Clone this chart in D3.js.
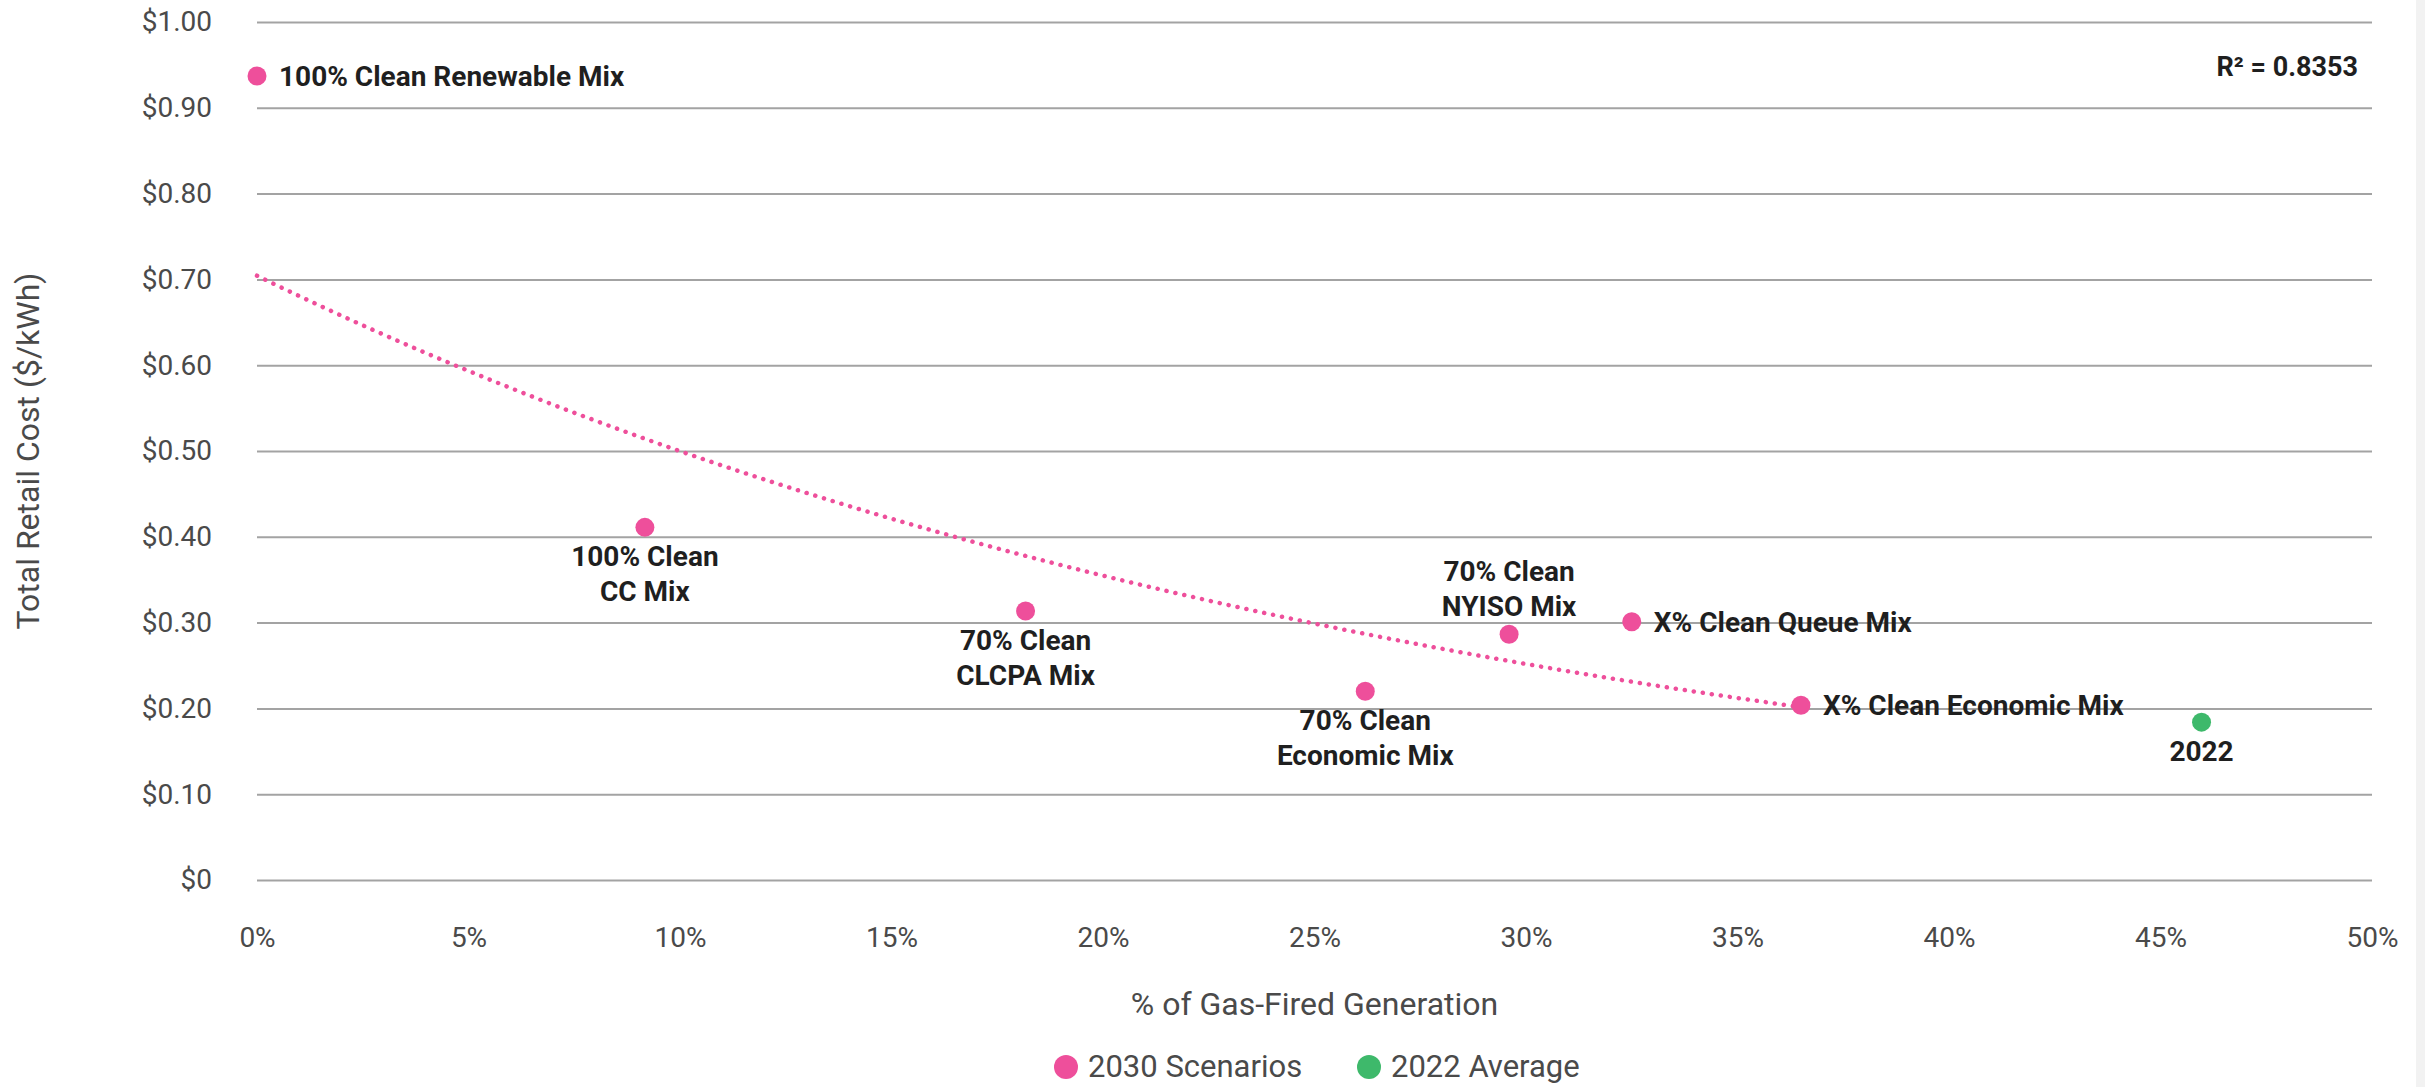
<!DOCTYPE html>
<html>
<head>
<meta charset="utf-8">
<script src="https://cdn.jsdelivr.net/npm/d3@7"></script>
<style>
  html, body { margin: 0; padding: 0; background: #fff; }
  svg { display: block; font-family: Roboto, "Noto Sans", sans-serif; }
</style>
</head>
<body>
<svg id="chart" width="2425" height="1087"></svg>
<script>
// ---- Data ----
const scenarioNames = [
  ["100% Clean Renewable Mix"],
  ["100% Clean", "CC Mix"],
  ["70% Clean", "CLCPA Mix"],
  ["70% Clean", "Economic Mix"],
  ["70% Clean", "NYISO Mix"],
  ["X% Clean Queue Mix"],
  ["X% Clean Economic Mix"]
];
const scenarioGas = [0.0, 0.0917, 0.1817, 0.262, 0.296, 0.325, 0.365];
const scenarioCost = [0.937, 0.411, 0.3135, 0.220, 0.2865, 0.301, 0.2036];
const scenarioLabelPos = ["right", "below", "below", "below", "above", "right", "right"];

const averageNames = [["2022"]];
const averageGas = [0.4597];
const averageCost = [0.184];
const averageLabelPos = ["below"];

const yTicks = [0, 0.1, 0.2, 0.3, 0.4, 0.5, 0.6, 0.7, 0.8, 0.9, 1.0];
const xTicks = [0, 0.05, 0.10, 0.15, 0.20, 0.25, 0.30, 0.35, 0.40, 0.45, 0.50];
const r2Text = "R² = 0.8353";
const legendItems = ["2030 Scenarios", "2022 Average"];
const xTitle = "% of Gas-Fired Generation";
const yTitle = "Total Retail Cost ($/kWh)";

// ---- Styles ----
const PINK = "#ee4f9b";
const GREEN = "#3eb96b";
const GRID = "#a3a3a3";
const TICK = "#4a4a4a";
const LABEL = "#1f1f1f";

const svg = d3.select("#chart");
const x = d3.scaleLinear().domain([0, 0.5]).range([257, 2372]);
const y = d3.scaleLinear().domain([0, 1]).range([880, 22]);

// right edge strip
svg.append("rect").attr("x", 2416).attr("y", 0).attr("width", 9).attr("height", 1087).attr("fill", "#f2f2f2");

// gridlines + y axis
const yAxis = d3.axisLeft(y).tickValues(yTicks)
  .tickSize(-(x.range()[1] - x.range()[0]))
  .tickPadding(45)
  .tickFormat(d => d === 0 ? "$0" : "$" + d3.format(".2f")(d));
const gy = svg.append("g").attr("transform", `translate(${x.range()[0]},0)`).call(yAxis);
gy.select(".domain").remove();
gy.selectAll(".tick line").attr("stroke", GRID).attr("stroke-width", 2);
gy.selectAll(".tick text").attr("fill", TICK).attr("font-size", 28).attr("font-family", "Roboto");

// x axis
const xAxis = d3.axisBottom(x).tickValues(xTicks).tickSize(0).tickPadding(47)
  .tickFormat(d => Math.round(d * 100) + "%");
const gx = svg.append("g").attr("transform", `translate(0,${y.range()[0]})`).call(xAxis);
gx.select(".domain").remove();
gx.selectAll(".tick text").attr("fill", TICK).attr("font-size", 28).attr("font-family", "Roboto");

// axis titles
svg.append("text").attr("x", (x.range()[0] + x.range()[1]) / 2).attr("y", 1015)
  .attr("text-anchor", "middle").attr("fill", TICK).attr("font-size", 32).text(xTitle);
svg.append("text").attr("transform", `translate(39,${(y.range()[0] + y.range()[1]) / 2}) rotate(-90)`)
  .attr("text-anchor", "middle").attr("fill", TICK).attr("font-size", 32).text(yTitle);

// exponential trendline fitted (least squares on ln y) to scenario points
const n = scenarioGas.length;
const lys = scenarioCost.map(Math.log);
const mx = d3.mean(scenarioGas), mly = d3.mean(lys);
let sxy = 0, sxx = 0;
for (let i = 0; i < n; i++) { sxy += (scenarioGas[i] - mx) * (lys[i] - mly); sxx += (scenarioGas[i] - mx) ** 2; }
const b = sxy / sxx, a = Math.exp(mly - b * mx);
const xMin = d3.min(scenarioGas), xMax = d3.max(scenarioGas);
const trend = d3.range(0, 101).map(i => {
  const xv = xMin + (xMax - xMin) * i / 100;
  return [xv, a * Math.exp(b * xv)];
});
svg.append("path").datum(trend)
  .attr("d", d3.line().x(d => x(d[0])).y(d => y(d[1])).curve(d3.curveLinear))
  .attr("fill", "none").attr("stroke", PINK).attr("stroke-width", 4.5)
  .attr("stroke-dasharray", "0.1 9").attr("stroke-linecap", "round");

// points + labels
function drawSeries(gas, cost, names, pos, color) {
  const g = svg.append("g");
  gas.forEach((gv, i) => {
    const cx = x(gv), cy = y(cost[i]);
    g.append("circle").attr("cx", cx).attr("cy", cy).attr("r", 9.5).attr("fill", color);
    const lines = names[i];
    const t = g.append("text").attr("fill", LABEL).attr("font-size", 28).attr("font-weight", "bold")
      .attr("font-family", "Roboto");
    const lh = 35;
    if (pos[i] === "right") {
      t.attr("x", cx + 22).attr("y", cy + 10).attr("text-anchor", "start").text(lines[0]);
    } else if (pos[i] === "below") {
      lines.forEach((ln, k) => {
        t.append("tspan").attr("x", cx).attr("y", cy + 39 + k * lh).attr("text-anchor", "middle").text(ln);
      });
    } else {
      lines.forEach((ln, k) => {
        t.append("tspan").attr("x", cx).attr("y", cy - 53 + k * lh).attr("text-anchor", "middle").text(ln);
      });
    }
  });
}
drawSeries(scenarioGas, scenarioCost, scenarioNames, scenarioLabelPos, PINK);
drawSeries(averageGas, averageCost, averageNames, averageLabelPos, GREEN);

// R² label
svg.append("text").attr("x", 2358).attr("y", 76).attr("text-anchor", "end")
  .attr("fill", LABEL).attr("font-size", 27).attr("font-weight", "bold").text(r2Text);

// legend
const legendColors = [PINK, GREEN];
const legendX = [1066, 1369];
legendItems.forEach((name, i) => {
  svg.append("circle").attr("cx", legendX[i]).attr("cy", 1067).attr("r", 12).attr("fill", legendColors[i]);
  svg.append("text").attr("x", legendX[i] + 22).attr("y", 1077).attr("fill", TICK)
    .attr("font-size", 31).text(name);
});
</script>
</body>
</html>
